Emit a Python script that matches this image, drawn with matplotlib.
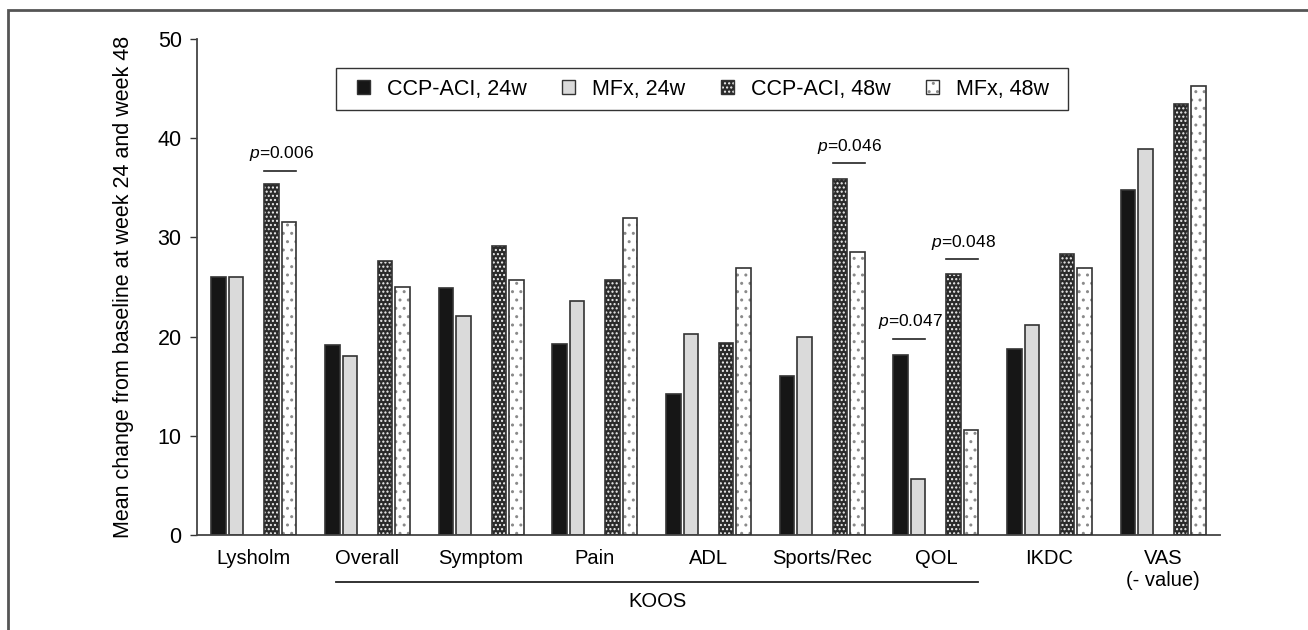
import matplotlib
matplotlib.use('Agg')
import matplotlib.pyplot as plt
import matplotlib.transforms as mtransforms
from matplotlib.patches import Patch, Rectangle
from matplotlib.legend_handler import HandlerBase
import numpy as np

plt.rcParams['font.family'] = ['Liberation Sans', 'DejaVu Sans']
plt.rcParams['mathtext.fontset'] = 'custom'
plt.rcParams['mathtext.rm'] = 'Liberation Sans'
plt.rcParams['mathtext.it'] = 'Liberation Sans:italic'
plt.rcParams['hatch.linewidth'] = 1.0

categories = ['Lysholm', 'Overall', 'Symptom', 'Pain', 'ADL', 'Sports/Rec', 'QOL', 'IKDC', 'VAS\n(- value)']
ccp_24 = [26.0, 19.2, 24.9, 19.3, 14.2, 16.0, 18.1, 18.8, 34.8]
mfx_24 = [26.0, 18.0, 22.1, 23.6, 20.3, 20.0, 5.6, 21.2, 38.9]
ccp_48 = [35.4, 27.6, 29.1, 25.7, 19.4, 35.9, 26.3, 28.3, 43.4]
mfx_48 = [31.6, 25.0, 25.7, 32.0, 26.9, 28.5, 10.6, 26.9, 45.3]
series_labels = ['CCP-ACI, 24w', 'MFx, 24w', 'CCP-ACI, 48w', 'MFx, 48w']

# significance annotations: (category index, week pair, text, bracket height)
p_cats = [0, 5, 6, 6]
p_pairs = ['48w', '48w', '24w', '48w']
p_texts = ['0.006', '0.046', '0.047', '0.048']
p_heights = [36.7, 37.5, 19.8, 27.8]

y_ticks = [0, 10, 20, 30, 40, 50]
koos_span = (1, 6)
koos_label = 'KOOS'
ylabel = 'Mean change from baseline at week 24 and week 48'

edge = '#333333'
styles = [
    dict(face='#161616', hcolor=None, hatch=None),
    dict(face='#dadada', hcolor=None, hatch=None),
    dict(face='#2a2a2a', hcolor='#f0f0f0', hatch='....'),
    dict(face='white', hcolor='#8a8a8a', hatch='..'),
]

fig = plt.figure(figsize=(13.08, 6.3), dpi=100)
ax = fig.add_axes([197/1308, 95/630, (1220-197)/1308, (535-39)/630])

x = np.arange(len(categories))
width = 0.128
offsets = [-0.31, -0.155, 0.155, 0.31]
lw = 1.2
series = [ccp_24, mfx_24, ccp_48, mfx_48]

for vals, off, st in zip(series, offsets, styles):
    if st['hatch'] is None:
        ax.bar(x + off, vals, width, color=st['face'], edgecolor=edge, linewidth=lw, zorder=2)
    else:
        ax.bar(x + off, vals, width, color=st['face'], edgecolor=st['hcolor'], hatch=st['hatch'],
               linewidth=0, zorder=2)
        ax.bar(x + off, vals, width, fill=False, edgecolor=edge, linewidth=lw, zorder=3)

ax.set_xlim(-0.5, 8.5)
ax.set_ylim(0, 50)
ax.set_yticks(y_ticks)
ax.set_xticks(x)
ax.set_xticklabels(categories, fontsize=14.5)
ax.tick_params(axis='x', length=0, pad=10)
ax.tick_params(axis='y', direction='out', length=5, width=1, labelsize=15.5, pad=6, color='#333333')
for s in ['top', 'right']:
    ax.spines[s].set_visible(False)
for s in ['left', 'bottom']:
    ax.spines[s].set_color('#444444')
    ax.spines[s].set_linewidth(1.3)
ax.set_ylabel(ylabel, fontsize=15.5, labelpad=17)

# p-value brackets
for ci, pair, txt, h in zip(p_cats, p_pairs, p_texts, p_heights):
    o1, o2 = (offsets[0], offsets[1]) if pair == '24w' else (offsets[2], offsets[3])
    x1 = ci + o1 - width / 2
    x2 = ci + o2 + width / 2
    ax.plot([x1, x2], [h, h], color='#222222', lw=1.2)
    ax.text((x1 + x2) / 2 + 0.01, h + 0.75, '$p$=' + txt, ha='center', va='bottom', fontsize=12.5)

# KOOS bracket
trans = mtransforms.blended_transform_factory(ax.transData, ax.transAxes)
kx1 = koos_span[0] - 0.273
kx2 = koos_span[1] + 0.368
ax.plot([kx1, kx2], [-0.095, -0.095], color='#222222', lw=1.3, transform=trans, clip_on=False)
ax.text((kx1 + kx2) / 2, -0.134, koos_label, ha='center', va='center', fontsize=14.5, transform=trans)


class SwatchHandler(HandlerBase):
    def __init__(self, st):
        super().__init__()
        self.st = st

    def create_artists(self, legend, orig_handle, xdescent, ydescent, width, height, fontsize, trans):
        st = self.st
        arts = []
        if st['hatch'] is None:
            arts.append(Rectangle((-xdescent, -ydescent), width, height, facecolor=st['face'],
                                  edgecolor=edge, linewidth=1, transform=trans))
        else:
            arts.append(Rectangle((-xdescent, -ydescent), width, height, facecolor=st['face'],
                                  edgecolor=st['hcolor'], hatch=st['hatch'], linewidth=0, transform=trans))
            arts.append(Rectangle((-xdescent, -ydescent), width, height, fill=False,
                                  edgecolor=edge, linewidth=1, transform=trans))
        return arts


# legend frame drawn separately for wider horizontal padding
lx0, lx1, ly0, ly1 = 0.136, 0.851, 0.857, 0.941
ax.add_patch(Rectangle((lx0, ly0), lx1 - lx0, ly1 - ly0, transform=ax.transAxes,
                       facecolor='white', edgecolor='#333333', linewidth=1.0, zorder=4))
handles = [Patch(label=l) for l in series_labels]
hmap = {h: SwatchHandler(st) for h, st in zip(handles, styles)}
leg = ax.legend(handles, series_labels, ncol=4, loc='center left', mode='expand',
                bbox_to_anchor=(lx0 + 0.014, ly0, (lx1 - lx0) - 0.026, ly1 - ly0),
                borderaxespad=0, fontsize=15.5, frameon=False,
                handlelength=0.6, handleheight=0.6, handletextpad=0.8,
                borderpad=0.3, columnspacing=1.6, handler_map=hmap)
leg.set_zorder(5)

# outer frame
fig.patches.append(Rectangle((8/1308, -0.1), 1.2, 0.1 + 620/630, transform=fig.transFigure,
                             fill=False, edgecolor='#555555', linewidth=2))

fig.savefig('out.png', dpi=100)
